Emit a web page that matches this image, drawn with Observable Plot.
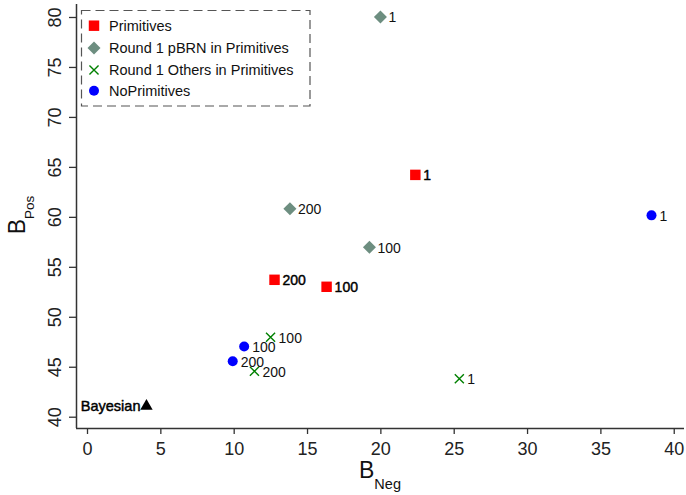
<!DOCTYPE html>
<html><head><meta charset="utf-8">
<script src="https://cdn.jsdelivr.net/npm/d3@7"></script>
<script src="https://cdn.jsdelivr.net/npm/@observablehq/plot@0.6"></script>
<style>
body{margin:0;background:#fff;}
#chart{width:686px;height:495px;}
</style>
</head><body><div id="chart"></div>
<script>
// Series definitions
const seriesNames = ["Primitives", "Round 1 pBRN in Primitives", "Round 1 Others in Primitives", "NoPrimitives"];
const seriesColors = ["#ff0000", "#6d8e80", "#008000", "#0000ff"];

// Values: B_Neg (x), B_Pos (y), label
const primX = [22.35, 16.3, 12.75];
const primY = [64.25, 53.05, 53.75];
const primLab = ["1", "100", "200"];

const pbrnX = [19.97, 19.22, 13.8];
const pbrnY = [80.05, 57.0, 60.85];
const pbrnLab = ["1", "100", "200"];

const othX = [25.35, 12.48, 11.38];
const othY = [43.85, 48.0, 44.6];
const othLab = ["1", "100", "200"];

const noX = [38.45, 10.68, 9.9];
const noY = [60.2, 47.08, 45.6];
const noLab = ["1", "100", "200"];

const bayesX = [4.02];
const bayesY = [41.1];
const bayesLab = ["Bayesian"];

const xTicks = [0, 5, 10, 15, 20, 25, 30, 35, 40];
const yTicks = [40, 45, 50, 55, 60, 65, 70, 75, 80];

const FONT = "'Liberation Sans', Arial, Helvetica, sans-serif";
const xDomain = [-0.75, 40.7];
const yDomain = [38.87, 81.3];

const rows = (xs, ys, ls) => xs.map((x, i) => ({x, y: ys[i], label: ls[i]}));
const prim = rows(primX, primY, primLab);
const pbrn = rows(pbrnX, pbrnY, pbrnLab);
const oth = rows(othX, othY, othLab);
const noP = rows(noX, noY, noLab);
const bayes = rows(bayesX, bayesY, bayesLab);

const R = {sq: 5.9, dia: 5.2, times: 4.2, circ: 5, tri: 4.6};

const labelOpts = {x: "x", y: "y", text: "label", dx: 8, dy: 1, textAnchor: "start", fontSize: 14, fill: "#111"};

const plot = Plot.plot({
  width: 686,
  height: 495,
  marginLeft: 76,
  marginRight: 2,
  marginTop: 4,
  marginBottom: 67,
  style: {fontFamily: FONT, color: "#222", background: "#fff"},
  x: {domain: xDomain, label: null},
  y: {domain: yDomain, label: null, axis: null},
  marks: [
    Plot.axisX(xTicks, {tickSize: 6, tickPadding: 8, fontSize: 18, label: null, stroke: "#333", strokeWidth: 1.3, color: "#222"}),
    Plot.ruleY([yDomain[0]], {stroke: "#333", strokeWidth: 1.5}),
    Plot.ruleX([xDomain[0]], {stroke: "#333", strokeWidth: 1.5}),
    Plot.axisY(yTicks, {tickSize: 7, tickFormat: () => "", label: null, stroke: "#333", strokeWidth: 1.3}),
    Plot.text(yTicks, {y: d => d, frameAnchor: "left", dx: -21, rotate: -90, text: d => String(d), fontSize: 18, textAnchor: "middle", lineAnchor: "middle", fill: "#222"}),
    // points
    Plot.dot(prim, {x: "x", y: "y", symbol: "square", r: R.sq, fill: seriesColors[0]}),
    Plot.dot(pbrn, {x: "x", y: "y", symbol: "square", r: R.dia, rotate: 45, fill: seriesColors[1]}),
    Plot.dot(oth, {x: "x", y: "y", symbol: "times", r: R.times, stroke: seriesColors[2], strokeWidth: 1.4}),
    Plot.dot(noP, {x: "x", y: "y", symbol: "circle", r: R.circ, fill: seriesColors[3]}),
    Plot.dot(bayes, {x: "x", y: "y", symbol: "triangle", r: R.tri, fill: "#000"}),
    // labels
    Plot.text(prim, {...labelOpts, fill: "#000", stroke: "#000", strokeWidth: 0.45}),
    Plot.text(pbrn, labelOpts),
    Plot.text(oth, labelOpts),
    Plot.text(noP, labelOpts),
    Plot.text(bayes, {x: "x", y: "y", text: "label", dx: -6, dy: 0, textAnchor: "end", fontSize: 14.5, fill: "#000", stroke: "#000", strokeWidth: 0.45})
  ]
});

document.getElementById("chart").appendChild(plot);
const svg = d3.select(plot);

// Axis titles with subscripts
const xt = svg.append("text").attr("x", 380).attr("y", 478).attr("text-anchor", "middle")
  .attr("font-family", FONT).attr("fill", "#111");
xt.append("tspan").attr("font-size", 23).text("B");
xt.append("tspan").attr("font-size", 14.5).attr("dy", 11).text("Neg");

const yt = svg.append("text").attr("transform", "translate(25,215) rotate(-90)").attr("text-anchor", "middle")
  .attr("font-family", FONT).attr("fill", "#111");
yt.append("tspan").attr("font-size", 23).text("B");
yt.append("tspan").attr("font-size", 13.5).attr("dy", 8.5).text("Pos");

// Legend
const lg = svg.append("g").attr("font-family", FONT).attr("text-anchor", "start");
lg.append("rect").attr("x", 81.5).attr("y", 10.5).attr("width", 228.5).attr("height", 95.5)
  .attr("fill", "#fff").attr("stroke", "#555").attr("stroke-width", 1.2).attr("stroke-dasharray", "9,5");
const legSyms = [
  {sym: d3.symbolSquare, r: R.sq, rot: 0, fill: seriesColors[0], stroke: "none"},
  {sym: d3.symbolSquare, r: R.dia, rot: 45, fill: seriesColors[1], stroke: "none"},
  {sym: d3.symbolTimes, r: R.times, rot: 0, fill: "none", stroke: seriesColors[2]},
  {sym: d3.symbolCircle, r: R.circ, rot: 0, fill: seriesColors[3], stroke: "none"}
];
const legY = [25.7, 48, 70, 90.7];
seriesNames.forEach((name, i) => {
  const s = legSyms[i];
  lg.append("path").attr("d", d3.symbol(s.sym, Math.PI * s.r * s.r)())
    .attr("transform", `translate(94,${legY[i]}) rotate(${s.rot})`)
    .attr("fill", s.fill).attr("stroke", s.stroke).attr("stroke-width", 1.4);
  lg.append("text").attr("x", 109).attr("y", legY[i]).attr("dy", "0.35em").attr("text-anchor", "start")
    .attr("font-size", 14.5).attr("fill", "#111").text(name);
});
</script>
</body></html>
